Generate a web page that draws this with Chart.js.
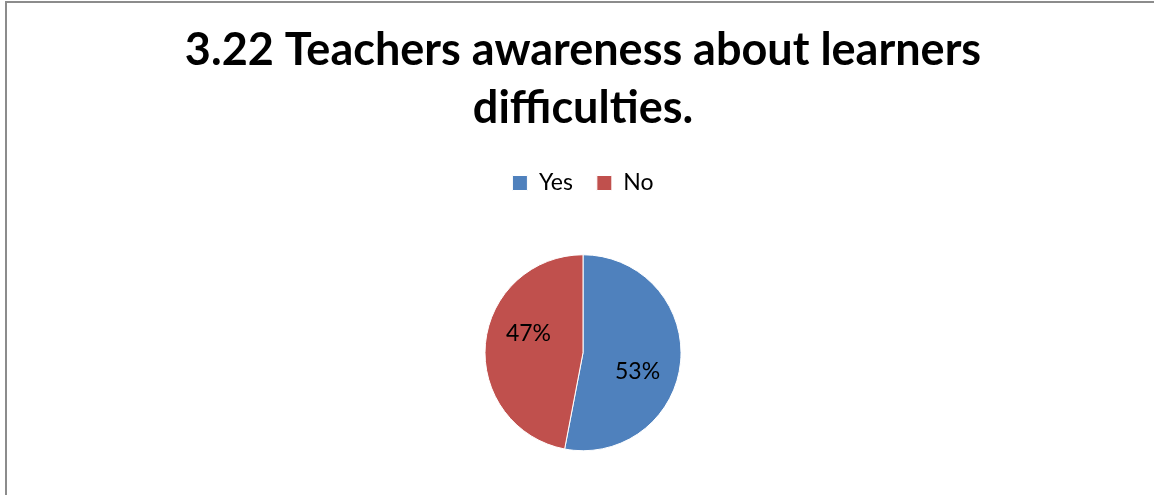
<!DOCTYPE html>
<html>
<head>
<meta charset="utf-8">
<title>Teachers awareness about learners difficulties</title>
<script src="https://cdn.jsdelivr.net/npm/chart.js@4/dist/chart.umd.min.js"></script>
<style>
  html, body { margin: 0; padding: 0; background: #fff; }
  #wrap { position: relative; width: 1154px; height: 495px; overflow: hidden; }
  #pie { display: block; }
  #frame {
    position: absolute; left: 5px; top: 1px; right: 0; bottom: 0;
    border-left: 2px solid #8c8c8c; border-top: 2px solid #8c8c8c;
    pointer-events: none;
  }
</style>
</head>
<body>
<div id="wrap">
  <!-- canvas a bit taller than the frame so the pie sits where Excel put it -->
  <canvas id="pie" width="1154" height="501"></canvas>
  <div id="frame"></div>
</div>
<script>
const titleLines = ["3.22 Teachers awareness about learners", "difficulties."];
const categories = ["Yes", "No"];
const values = [53, 47];
const colors = ["#4F81BD", "#C0504D"];

// percent labels inside the slices, Excel "best fit" style
const sliceLabels = {
  id: "sliceLabels",
  afterDatasetsDraw(chart) {
    const ctx = chart.ctx;
    const meta = chart.getDatasetMeta(0);
    const total = values.reduce((a, b) => a + b, 0);
    ctx.save();
    ctx.font = "23px Lato";
    ctx.fillStyle = "#000";
    ctx.textAlign = "center";
    ctx.textBaseline = "middle";
    meta.data.forEach((arc, i) => {
      const { x, y, startAngle, endAngle, outerRadius } = arc.getProps(
        ["x", "y", "startAngle", "endAngle", "outerRadius"], true);
      const mid = (startAngle + endAngle) / 2 + 14 * Math.PI / 180;
      const r = outerRadius * 0.59;
      const txt = Math.round(values[i] / total * 100) + "%";
      ctx.fillText(txt, x + Math.cos(mid) * r, y + Math.sin(mid) * r);
    });
    ctx.restore();
  },
};

new Chart(document.getElementById("pie"), {
  type: "pie",
  data: {
    labels: categories,
    datasets: [{
      data: values,
      backgroundColor: colors,
      borderColor: "#ffffff",
      borderWidth: 1,
    }],
  },
  options: {
    responsive: false,
    animation: false,
    radius: 98,
    layout: { padding: { left: 12 } },
    plugins: {
      title: {
        display: true,
        text: titleLines,
        color: "#000",
        font: { family: "Lato", size: 45, weight: "bold", lineHeight: 58 / 45 },
        padding: { top: 21.6, bottom: 9.9 },
      },
      legend: {
        position: "top",
        labels: {
          color: "#000",
          font: { family: "Lato", size: 23 },
          boxWidth: 15,
          boxHeight: 15,
          padding: 24,
        },
      },
      tooltip: { enabled: false },
    },
  },
  plugins: [sliceLabels],
});
</script>
</body>
</html>
